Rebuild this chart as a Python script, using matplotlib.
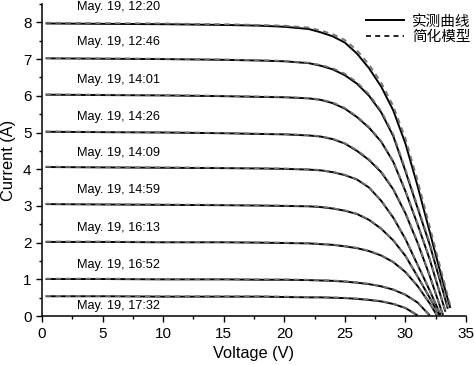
"""I-V curves of a PV module on May 19: measured vs simplified model."""
import matplotlib
matplotlib.use("Agg")
import matplotlib.pyplot as plt
from matplotlib.lines import Line2D
from matplotlib.ticker import MultipleLocator

plt.rcParams["font.family"] = ["Liberation Sans", "Noto Sans CJK SC", "DejaVu Sans"]

LABELS = ["May. 19, 12:20", "May. 19, 12:46", "May. 19, 14:01", "May. 19, 14:26",
          "May. 19, 14:09", "May. 19, 14:59", "May. 19, 16:13", "May. 19, 16:52",
          "May. 19, 17:32"]

# voltage (V) per curve
V_1220 = [0.3, 5, 10, 15, 18, 20, 22, 23, 24, 25, 26, 27, 28, 29, 30, 31, 32, 33, 33.7]
V_1246 = [0.3, 5, 10, 15, 18, 20, 22, 23, 24, 25, 26, 27, 28, 29, 30, 31, 32, 33, 33.5]
V_1401 = [0.3, 5, 10, 15, 18, 20, 22, 23, 24, 25, 26, 27, 28, 29, 30, 31, 32, 33, 33.3]
V_1426 = [0.3, 5, 10, 15, 18, 20, 22, 23, 24, 25, 26, 27, 28, 29, 30, 31, 32, 33.1]
V_1409 = [0.3, 5, 10, 15, 18, 20, 22, 23, 24, 25, 26, 27, 28, 29, 30, 31, 32, 32.9]
V_1459 = [0.3, 5, 10, 15, 18, 20, 22, 23, 24, 25, 26, 27, 28, 29, 30, 31, 32, 32.8]
V_1613 = [0.3, 5, 10, 15, 18, 20, 22, 23, 24, 25, 26, 27, 28, 29, 30, 31, 32, 32.6]
V_1652 = [0.3, 5, 10, 15, 18, 20, 22, 23, 24, 25, 26, 27, 28, 29, 30, 31, 32]
V_1732 = [0.3, 5, 10, 15, 18, 20, 22, 23, 24, 25, 26, 27, 28, 29, 30, 31]

# measured current (A)
I_1220 = [7.97, 7.96, 7.95, 7.93, 7.91, 7.88, 7.82, 7.73, 7.62, 7.45, 7.15, 6.75, 6.25, 5.60, 4.70, 3.55, 2.30, 1.05, 0.22]
I_1246 = [7.02, 7.01, 7.00, 6.98, 6.96, 6.94, 6.89, 6.82, 6.72, 6.56, 6.33, 6.00, 5.55, 4.90, 3.95, 2.95, 1.95, 0.80, 0.20]
I_1401 = [6.03, 6.02, 6.01, 5.99, 5.97, 5.96, 5.93, 5.89, 5.80, 5.65, 5.42, 5.13, 4.75, 4.20, 3.40, 2.50, 1.55, 0.45, 0.12]
I_1426 = [5.02, 5.01, 5.00, 4.98, 4.96, 4.95, 4.92, 4.89, 4.82, 4.70, 4.50, 4.25, 3.92, 3.45, 2.80, 2.00, 1.10, 0.03]
I_1409 = [4.06, 4.05, 4.04, 4.03, 4.02, 4.01, 3.99, 3.97, 3.92, 3.84, 3.72, 3.50, 3.14, 2.68, 2.10, 1.40, 0.70, 0.03]
I_1459 = [3.05, 3.04, 3.03, 3.02, 3.01, 3.00, 2.99, 2.97, 2.93, 2.87, 2.78, 2.62, 2.38, 2.06, 1.64, 1.08, 0.50, 0.03]
I_1613 = [2.02, 2.02, 2.01, 2.01, 2.00, 1.99, 1.98, 1.96, 1.94, 1.90, 1.85, 1.77, 1.65, 1.47, 1.20, 0.82, 0.35, 0.02]
I_1652 = [1.01, 1.01, 1.00, 1.00, 0.99, 0.99, 0.98, 0.97, 0.96, 0.94, 0.91, 0.87, 0.81, 0.72, 0.58, 0.37, 0.02]
I_1732 = [0.54, 0.54, 0.53, 0.53, 0.53, 0.52, 0.51, 0.51, 0.50, 0.49, 0.47, 0.44, 0.40, 0.33, 0.22, 0.02]

# simplified model current (A)
M_1220 = [7.99, 7.98, 7.97, 7.95, 7.93, 7.91, 7.86, 7.78, 7.68, 7.52, 7.24, 6.85, 6.36, 5.72, 4.84, 3.70, 2.45, 1.18, 0.30]
M_1246 = [7.03, 7.02, 7.01, 6.99, 6.97, 6.95, 6.90, 6.84, 6.75, 6.60, 6.37, 6.04, 5.59, 4.95, 4.00, 3.00, 2.00, 0.86, 0.25]
M_1401 = [6.04, 6.03, 6.02, 6.00, 5.98, 5.97, 5.94, 5.90, 5.82, 5.67, 5.44, 5.15, 4.77, 4.22, 3.42, 2.52, 1.57, 0.47, 0.14]
M_1426 = [5.03, 5.02, 5.01, 4.99, 4.97, 4.96, 4.93, 4.90, 4.83, 4.71, 4.52, 4.27, 3.94, 3.47, 2.82, 2.02, 1.12, 0.04]
M_1409 = [4.07, 4.06, 4.05, 4.04, 4.03, 4.02, 4.00, 3.98, 3.93, 3.85, 3.73, 3.51, 3.15, 2.69, 2.11, 1.41, 0.71, 0.04]
M_1459 = [3.06, 3.05, 3.04, 3.03, 3.02, 3.01, 3.00, 2.98, 2.94, 2.88, 2.79, 2.63, 2.39, 2.07, 1.65, 1.09, 0.51, 0.04]
M_1613 = [2.03, 2.03, 2.02, 2.02, 2.01, 2.00, 1.99, 1.97, 1.95, 1.91, 1.86, 1.78, 1.66, 1.48, 1.21, 0.83, 0.36, 0.03]
M_1652 = [1.02, 1.02, 1.01, 1.01, 1.00, 1.00, 0.99, 0.98, 0.97, 0.95, 0.92, 0.88, 0.82, 0.73, 0.59, 0.38, 0.03]
M_1732 = [0.55, 0.55, 0.54, 0.54, 0.54, 0.53, 0.52, 0.52, 0.51, 0.50, 0.48, 0.45, 0.41, 0.34, 0.23, 0.03]

VOLTS = [V_1220, V_1246, V_1401, V_1426, V_1409, V_1459, V_1613, V_1652, V_1732]
MEAS = [I_1220, I_1246, I_1401, I_1426, I_1409, I_1459, I_1613, I_1652, I_1732]
MODEL = [M_1220, M_1246, M_1401, M_1426, M_1409, M_1459, M_1613, M_1652, M_1732]

# where each time-stamp sits (A)
LABEL_Y = [8.41, 7.46, 6.42, 5.41, 4.43, 3.44, 2.40, 1.39, 0.27]

fig = plt.figure(figsize=(4.74, 3.65), dpi=100)
ax = fig.add_axes([0.0886, 0.134, 0.8945, 0.855])

for v, i_meas, i_mod in zip(VOLTS, MEAS, MODEL):
    ax.plot(v, i_meas, color="black", lw=1.4, solid_capstyle="butt")
    ax.plot(v, i_mod, color="0.45", lw=1.3, ls=(0, (3, 2.5)))

for lab, y in zip(LABELS, LABEL_Y):
    ax.text(2.9, y, lab, fontsize=9.2, ha="left", va="center")

ax.set_xlim(0, 35)
ax.set_ylim(0, 8.5)
ax.xaxis.set_major_locator(MultipleLocator(5))
ax.xaxis.set_minor_locator(MultipleLocator(2.5))
ax.yaxis.set_major_locator(MultipleLocator(1))
ax.yaxis.set_minor_locator(MultipleLocator(0.5))
ax.tick_params(which="major", direction="out", length=4, width=1.0, labelsize=11)
ax.tick_params(which="minor", direction="out", length=2.5, width=1.0)
for s in ("top", "right"):
    ax.spines[s].set_visible(False)
for s in ("left", "bottom"):
    ax.spines[s].set_linewidth(1.1)

ax.set_xlabel("Voltage (V)", fontsize=11.8, labelpad=4)
ax.set_ylabel("Current (A)", fontsize=11.8, labelpad=5)

handles = [Line2D([], [], color="black", lw=1.4),
           Line2D([], [], color="black", lw=1.2, ls=(0, (3, 2.5)))]
ax.legend(handles, ["实测曲线", "简化模型"], loc="upper right", frameon=False,
          prop={"family": ["Noto Sans CJK SC"], "size": 10.5}, handlelength=2.6,
          handletextpad=0.6, labelspacing=0.1, borderaxespad=0.0,
          bbox_to_anchor=(1.025, 0.985))

fig.savefig("out.png", dpi=100)
